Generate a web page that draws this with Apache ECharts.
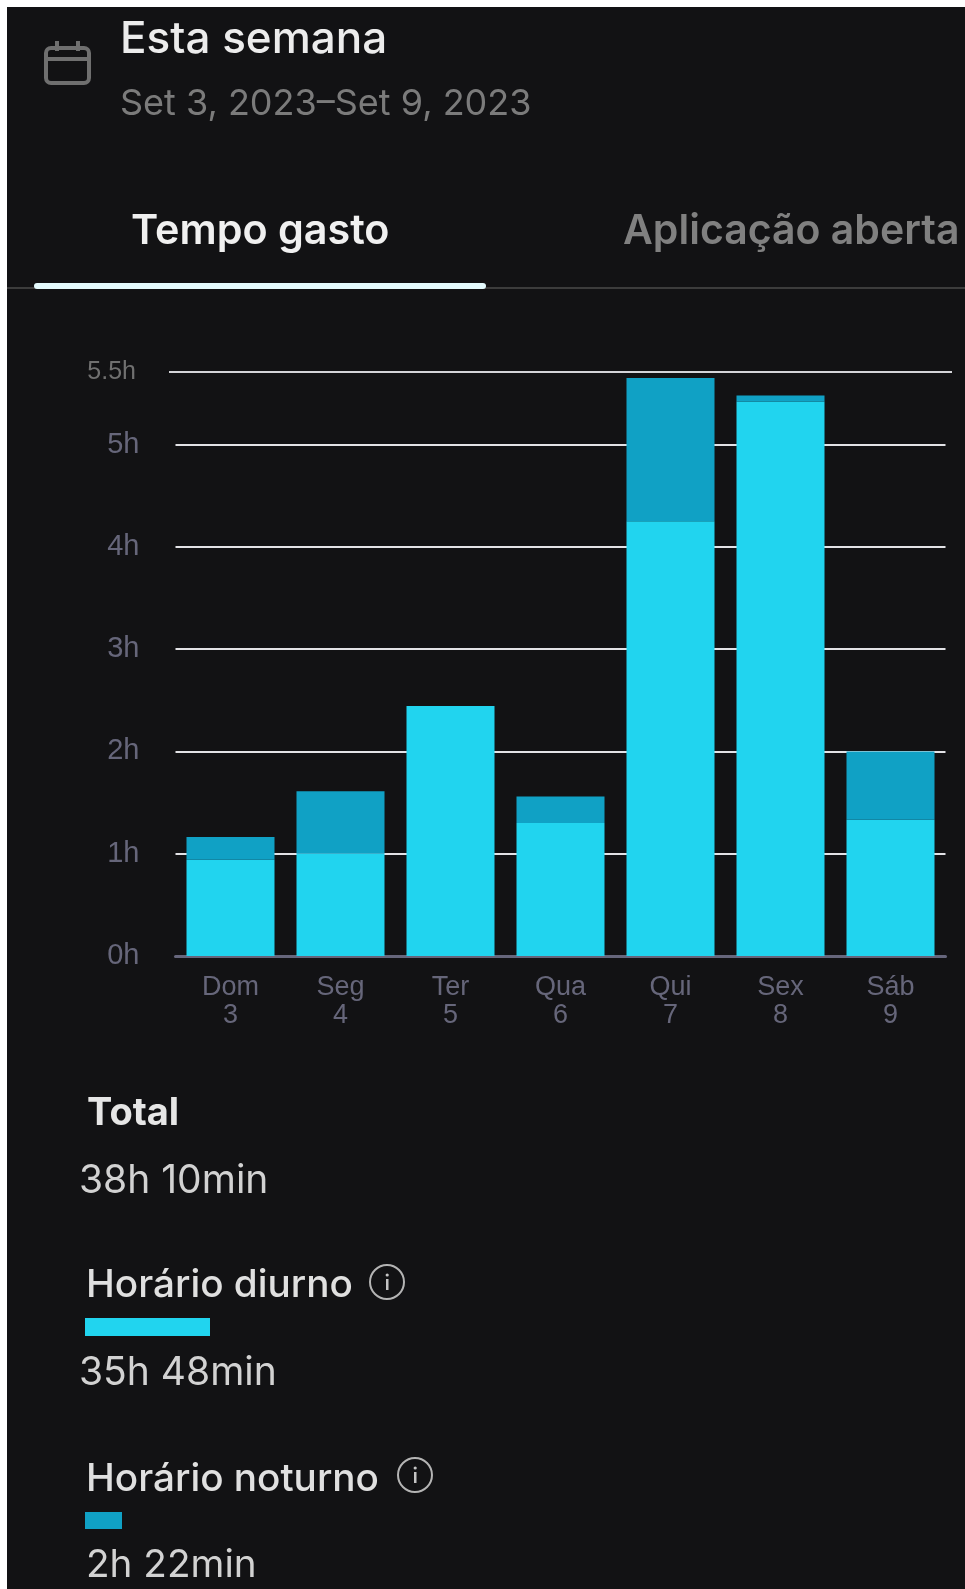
<!DOCTYPE html>
<html>
<head>
<meta charset="utf-8">
<title>Esta semana</title>
<script src="https://cdn.jsdelivr.net/npm/echarts@6/dist/echarts.min.js"></script>
<style>
  html, body { margin: 0; padding: 0; width: 965px; height: 1589px; background: #ffffff; overflow: hidden; }
  #panel { position: absolute; left: 7px; top: 7px; right: 0; bottom: 0; background: #121214; }
  #chart { position: absolute; left: 0; top: 0; width: 965px; height: 1589px; }
</style>
</head>
<body>
<div id="panel"></div>
<div id="chart"></div>
<script>
// Weekly screen time, split into daytime and night-time hours
const weekdays = ['Dom', 'Seg', 'Ter', 'Qua', 'Qui', 'Sex', 'Sáb'];
const dayNumbers = ['3', '4', '5', '6', '7', '8', '9'];
const daytimeHours = [0.94, 1.0, 2.445, 1.3, 4.25, 5.42, 1.333];
const nighttimeHours = [0.223, 0.61, 0, 0.258, 1.4, 0.06, 0.667];

const lowerTicks = [0, 1, 2, 3, 4, 5];
const topTick = 5.709;       // the top rule sits above the regular hour spacing
const topTickLabel = '5.5h';

const headerTitle = 'Esta semana';
const headerRange = 'Set 3, 2023–Set 9, 2023';
const tabActive = 'Tempo gasto';
const tabInactive = 'Aplicação aberta';
const totalLabel = 'Total';
const totalValue = '38h 10min';
const dayLabel = 'Horário diurno';
const dayValue = '35h 48min';
const nightLabel = 'Horário noturno';
const nightValue = '2h 22min';

const DAY_COLOR = '#21d4ef';
const NIGHT_COLOR = '#10a1c5';
const FONT = 'Inter';
const AXIS_FONT = '"Liberation Sans"';

function label(x, y, text, size, weight, fill) {
  return { type: 'text', x, y, silent: true,
    style: { text, fontFamily: FONT, fontSize: size, fontWeight: weight, fill,
             textAlign: 'left', textVerticalAlign: 'middle' } };
}
function infoIcon(cx, cy) {
  return [
    { type: 'circle', shape: { cx, cy, r: 17 }, silent: true,
      style: { fill: 'none', stroke: '#b4b4b4', lineWidth: 2 } },
    { type: 'rect', shape: { x: cx - 1, y: cy - 3, width: 2.5, height: 11 }, silent: true, style: { fill: '#c4c4c4' } },
    { type: 'circle', shape: { cx: cx + 0.2, cy: cy - 7, r: 1.6 }, silent: true, style: { fill: '#c4c4c4' } }
  ];
}
function calendarIcon() {
  const stroke = { fill: 'none', stroke: '#6f6f6f', lineWidth: 4 };
  return [
    { type: 'rect', shape: { x: 46, y: 48, width: 43, height: 35, r: 5 }, silent: true, style: stroke },
    { type: 'line', shape: { x1: 46, y1: 59, x2: 89, y2: 59 }, silent: true, style: stroke },
    { type: 'line', shape: { x1: 57, y1: 41, x2: 57, y2: 51 }, silent: true, style: stroke },
    { type: 'line', shape: { x1: 78, y1: 41, x2: 78, y2: 51 }, silent: true, style: stroke }
  ];
}

const graphicItems = [
  ...calendarIcon(),
  label(120, 40, headerTitle, 44, 500, '#ececec'),
  label(120, 104, headerRange, 36, 400, '#7b7b7b'),
  label(131, 232, tabActive, 41.3, 600, '#f0f0f0'),
  label(623, 232, tabInactive, 41, 600, '#808080'),
  { type: 'rect', shape: { x: 7, y: 287, width: 958, height: 2 }, silent: true, style: { fill: '#3c3c3c' } },
  { type: 'rect', shape: { x: 34, y: 283, width: 452, height: 6, r: 3 }, silent: true, style: { fill: '#e4fafd' } },
  label(87, 1114, totalLabel, 38, 700, '#e6e6e6'),
  label(79, 1181, totalValue, 39, 400, '#d2d2d2'),
  label(86, 1285, dayLabel, 38.7, 500, '#e0e0e0'),
  ...infoIcon(387, 1282),
  { type: 'rect', shape: { x: 85, y: 1318, width: 125, height: 18 }, silent: true, style: { fill: DAY_COLOR } },
  label(79, 1373, dayValue, 39, 400, '#d2d2d2'),
  label(86, 1479, nightLabel, 38.7, 500, '#e0e0e0'),
  ...infoIcon(415, 1475),
  { type: 'rect', shape: { x: 85, y: 1512, width: 37, height: 17 }, silent: true, style: { fill: NIGHT_COLOR } },
  label(86, 1565, nightValue, 38.7, 400, '#d2d2d2')
];

const chart = echarts.init(document.getElementById('chart'), null, { renderer: 'canvas' });
chart.setOption({
  animation: false,
  backgroundColor: 'transparent',
  graphic: graphicItems,
  grid: [
    { left: 175.5, right: 19.5, top: 372, bottom: 633 },
    { left: 169, right: 13, top: 372, bottom: 633 }
  ],
  xAxis: [
    {
      type: 'category', gridIndex: 0, data: weekdays,
      axisTick: { show: false },
      axisLine: { lineStyle: { color: '#66667c', width: 3 } },
      axisLabel: {
        margin: 18, fontFamily: AXIS_FONT, fontSize: 27, lineHeight: 28, color: '#66667a',
        formatter: (value, index) => value + '\n' + dayNumbers[index]
      }
    },
    { type: 'category', gridIndex: 1, data: weekdays, show: false }
  ],
  yAxis: [
    {
      type: 'value', gridIndex: 0, min: 0, max: topTick,
      axisLine: { show: false },
      axisTick: { show: false, customValues: lowerTicks },
      splitLine: { lineStyle: { color: '#e2e2e6', width: 2 }, showMinLine: false },
      axisLabel: {
        customValues: lowerTicks, margin: 36, fontFamily: AXIS_FONT, fontSize: 29,
        color: '#66667a', padding: [0, 0, 7, 0],
        formatter: (value) => value + 'h'
      }
    },
    {
      type: 'value', gridIndex: 1, min: 0, max: topTick,
      axisLine: { show: false },
      axisTick: { show: false, customValues: [topTick] },
      splitLine: { lineStyle: { color: '#d4d4d8', width: 2 } },
      axisLabel: {
        customValues: [topTick], margin: 33, fontFamily: AXIS_FONT, fontSize: 25,
        color: '#707070', padding: [0, 0, 5, 0],
        formatter: () => topTickLabel
      }
    }
  ],
  series: [
    { name: dayLabel, type: 'bar', stack: 'time', xAxisIndex: 0, yAxisIndex: 0, z: 3,
      barWidth: 88, data: daytimeHours, itemStyle: { color: DAY_COLOR } },
    { name: nightLabel, type: 'bar', stack: 'time', xAxisIndex: 0, yAxisIndex: 0, z: 3,
      barWidth: 88, data: nighttimeHours, itemStyle: { color: NIGHT_COLOR } }
  ]
});
</script>
</body>
</html>
